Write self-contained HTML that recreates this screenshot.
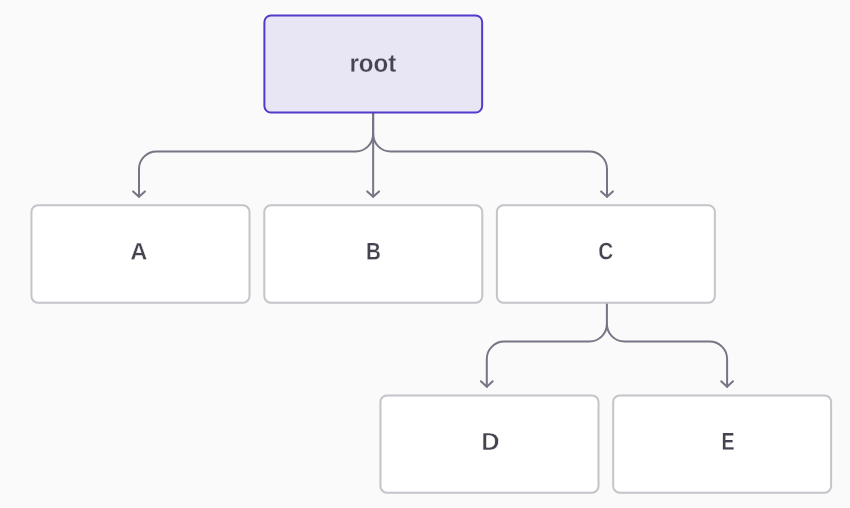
<!DOCTYPE html>
<html><head><meta charset="utf-8">
<style>
html,body{margin:0;padding:0;background:#fafafa;width:850px;height:508px;overflow:hidden}
svg{display:block;position:absolute;left:0;top:0;will-change:transform}
text{font-family:"Liberation Sans",sans-serif;font-weight:bold;font-size:20px}
</style></head><body>
<svg width="850" height="508" viewBox="0 0 850 508">
<g fill="none" stroke="#767584" stroke-width="2" stroke-linecap="round" stroke-linejoin="round">
<path d="M373.15 112.5 V196.8"/>
<path d="M373.15 112.5 V134 A17.5 17.5 0 0 1 355.65 151.5 H156.5 A17.5 17.5 0 0 0 139 169 V196.8"/>
<path d="M373.15 134 A17.5 17.5 0 0 0 390.65 151.5 H589.5 A17.5 17.5 0 0 1 607 169 V196.8"/>
<path d="M133.10 191.40 L139.00 196.80 L144.90 191.40"/>
<path d="M367.25 191.40 L373.15 196.80 L379.05 191.40"/>
<path d="M601.10 191.40 L607.00 196.80 L612.90 191.40"/>
<path d="M606.9 302.6 V324 A17.5 17.5 0 0 1 589.4 341.5 H504.3 A17.5 17.5 0 0 0 486.8 359 V386.65"/>
<path d="M606.9 324 A17.5 17.5 0 0 0 624.4 341.5 H709.6 A17.5 17.5 0 0 1 727.1 359 V386.65"/>
<path d="M480.90 381.25 L486.80 386.65 L492.70 381.25"/>
<path d="M721.20 381.25 L727.10 386.65 L733.00 381.25"/>
</g>
<rect x="264.4" y="15.45" width="217.75" height="97.05" rx="6.5" fill="#e8e6f5" stroke="#4f3cc9" stroke-width="2"/>
<g fill="#ffffff" stroke="#c4c4ca" stroke-width="2">
<rect x="31.45" y="205.3" width="218.05" height="97.33" rx="6.5"/>
<rect x="264.3" y="205.3" width="218" height="97.33" rx="6.5"/>
<rect x="496.9" y="205.3" width="217.95" height="97.33" rx="6.5"/>
<rect x="380.45" y="395.4" width="218.05" height="97.3" rx="6.5"/>
<rect x="613.2" y="395.4" width="217.9" height="97.3" rx="6.5"/>
</g>
<g fill="#45434f" stroke-linejoin="round" text-rendering="geometricPrecision">
<text transform="translate(349.383 71.669) rotate(0.1) scale(1.2071 1.2660)" stroke="#e8e6f5" stroke-width="0.202">root</text>
<text transform="translate(130.366 259.750) rotate(0.1) scale(1.1917 1.2137)" stroke="#ffffff" stroke-width="0.333">A</text>
<text transform="translate(365.955 259.610) rotate(0.1) scale(1.0271 1.2068)" stroke="#ffffff" stroke-width="0.224">B</text>
<text transform="translate(598.363 259.318) rotate(0.1) scale(1.0348 1.1890)" stroke="#ffffff" stroke-width="0.270">C</text>
<text transform="translate(481.277 449.875) rotate(0.1) scale(1.2697 1.2451)" stroke="#ffffff" stroke-width="0.477">D</text>
<text transform="translate(721.394 449.804) rotate(0.1) scale(0.9798 1.2231)" stroke="#ffffff" stroke-width="0.227">E</text>
</g>
</svg>
</body></html>
